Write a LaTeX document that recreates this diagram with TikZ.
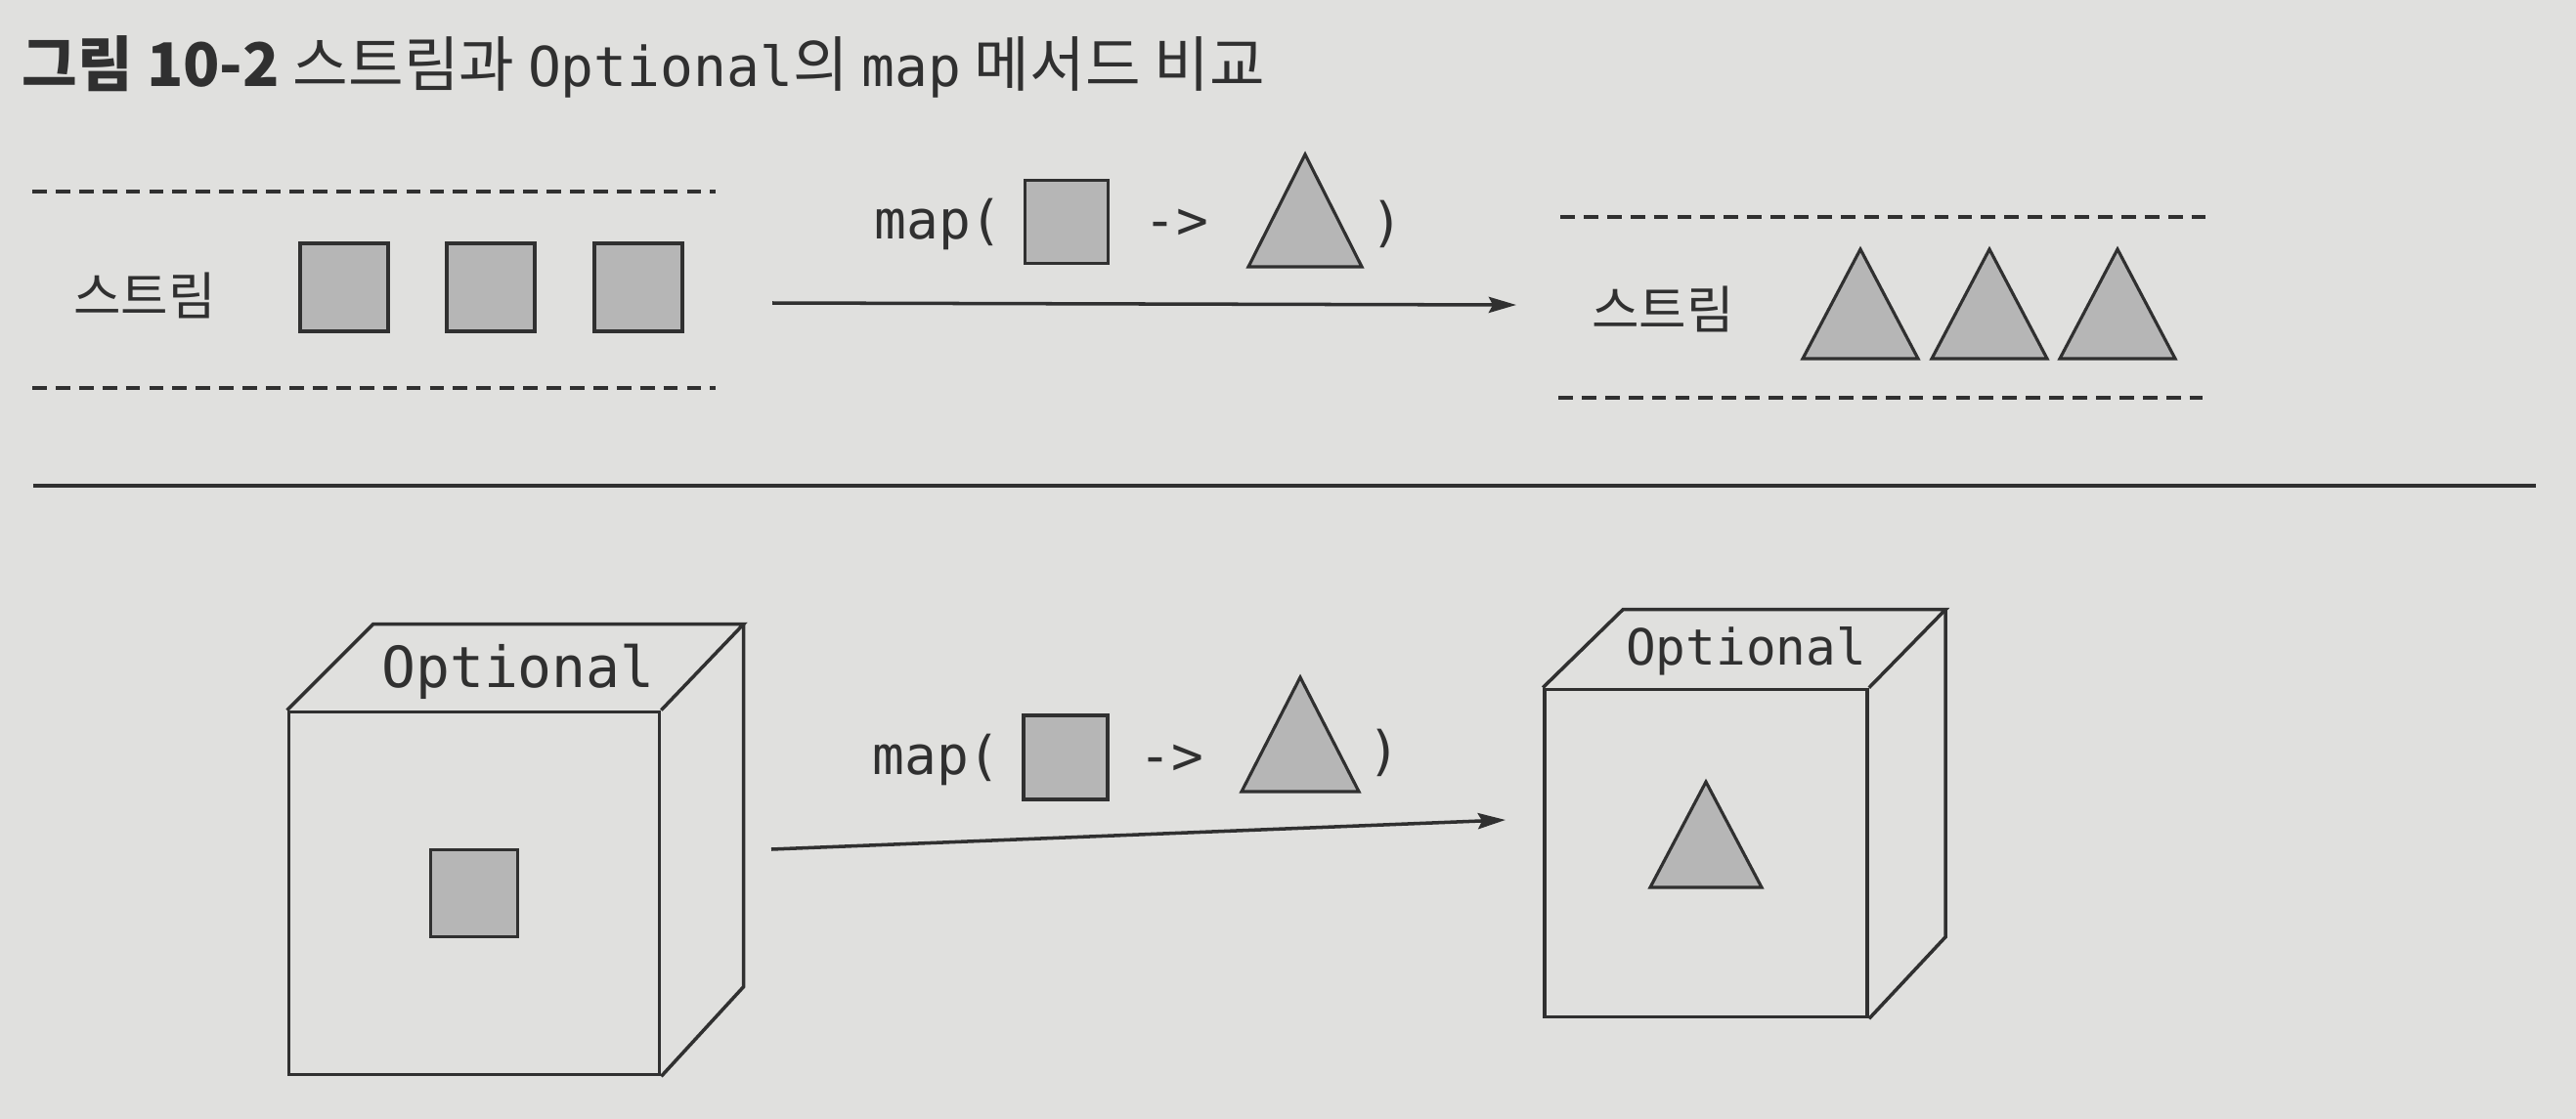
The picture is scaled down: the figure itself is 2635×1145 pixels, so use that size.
\documentclass[tikz,border=0pt]{standalone}
\usepackage{fontspec}
\setmainfont{Noto Sans CJK KR}
\newfontfamily\codefont{DejaVu Sans Mono}
\usepackage{xcolor}
\usepackage{tikz}
\usetikzlibrary{
  arrows.meta,
  positioning
}
\definecolor{paper}{RGB}{224,224,222}
\definecolor{ink}{RGB}{48,48,48}
\definecolor{shade}{RGB}{182,182,182}
\newcommand{\codeword}[1]{{\codefont\fontsize{16pt}{20pt}\selectfont #1}}

\begin{document}
\begin{tikzpicture}[%詳細設定
          x=0.01cm,y=-0.01cm,
          sepline/.style={
              draw=ink,
              line width=1pt
            },
          dashline/.style={
              draw=ink,
              line width=0.9pt,
              dash pattern=on 4.2pt off 2.6pt
            },
          sqbox/.style={
              draw=ink,
              fill=shade,
              line width=0.9pt,
              inner sep=0pt,
              minimum size=#1
            },
          sqbox/.default=0.9cm,
          tri/.style={
              draw=ink,
              fill=shade,
              line width=0.9pt,
              line join=miter
            },
          face/.style={
              draw=ink,
              line width=1pt,
              inner sep=0pt
            },
          code/.style={
              text=ink,
              inner sep=0pt,
              font=\codefont\fontsize{#1}{#1}\selectfont
            },
          code/.default=15.5pt,
          ko/.style={
              text=ink,
              inner sep=0pt,
              font=\fontsize{15pt}{17pt}\selectfont
            },
          arrow/.style={
              draw=ink,
              line width=1pt,
              -{Stealth[length=8pt,width=4.6pt,inset=1.2pt]}
            }
        ]

        % 背景と描画範囲
        \fill[paper] (0,0) rectangle (2635,1145);
        \useasboundingbox (0,0) rectangle (2635,1145);

        % 図のタイトル
        \node[anchor=west,text=ink,inner sep=0pt,font=\fontsize{17.5pt}{20pt}\selectfont] (title) at (22,68)
          {\textbf{그림 10-2} 스트림과 \codeword{Optional}의 \codeword{map} 메서드 비교};

        % 上段: 変換前のストリーム
        \draw[dashline] (33,196) -- (732,196);
        \draw[dashline] (33,397) -- (732,397);
        \node[ko] (strm1) at (148,302) {스트림};
        \foreach \x/\n in {352/1,502/2,653/3}
          \node[sqbox] (s\n) at (\x,294) {};

        % 上段: map の説明
        \node[code] (map1) at (960,229) {map(};
        \node[sqbox=0.85cm] (from1) at (1091,227) {};
        \node[code] (to1) at (1203,229) {->};
        \draw[tri] (1277,273) -- (1335,158) -- (1393,273) -- cycle;
        \node[code] (close1) at (1419,229) {)};
        \coordinate (a1s) at (790,310);
        \coordinate (a1e) at (1551,312);
        \draw[arrow] (a1s) -- (a1e);

        % 上段: 変換後のストリーム
        \draw[dashline] (1596,222) -- (2262,222);
        \draw[dashline] (1594,407) -- (2253,407);
        \node[ko] (strm2) at (1701,316) {스트림};
        \foreach \x in {1903,2035,2166}
          \draw[tri] (\x-59,367) -- (\x,255) -- (\x+59,367) -- cycle;

        % 区切り線
        \draw[sepline] (34,497) -- (2594,497);

        % 下段: 変換前の Optional
        \node[face,minimum width=3.79cm,minimum height=3.71cm] (opt1) at (485,914) {};
        \draw[face] (opt1.north west) -- ++(88,-88) coordinate (opt1nw)
          -- ++(379,0) coordinate (opt1ne) -- (opt1.north east);
        \draw[face] (opt1ne) -- ++(0,371) -- (opt1.south east);
        \node[code=16.5pt] (lbl1) at (530,687) {Optional};
        \node[sqbox=0.89cm] (val1) at (opt1.center) {};

        % 下段: map の説明
        \node[code] (map2) at (958,777) {map(};
        \node[sqbox=0.86cm] (from2) at (1090,775) {};
        \node[code] (to2) at (1198,777) {->};
        \draw[tri] (1270,810) -- (1330,693) -- (1390,810) -- cycle;
        \node[code] (close2) at (1416,770) {)};
        \coordinate (a2s) at (789,869);
        \coordinate (a2e) at (1540,839);
        \draw[arrow] (a2s) -- (a2e);

        % 下段: 変換後の Optional
        \node[face,minimum width=3.3cm,minimum height=3.35cm] (opt2) at (1745,873) {};
        \draw[face] (opt2.north west) -- ++(82,-80) coordinate (opt2nw)
          -- ++(330,0) coordinate (opt2ne) -- (opt2.north east);
        \draw[face] (opt2ne) -- ++(0,335) -- (opt2.south east);
        \node[code=14.5pt] (lbl2) at (1786,666) {Optional};
        \draw[tri] ([shift={(-57,35)}]opt2.center) -- ++(57,-108) -- ++(57,108) -- cycle;

      \end{tikzpicture}
\end{document}
